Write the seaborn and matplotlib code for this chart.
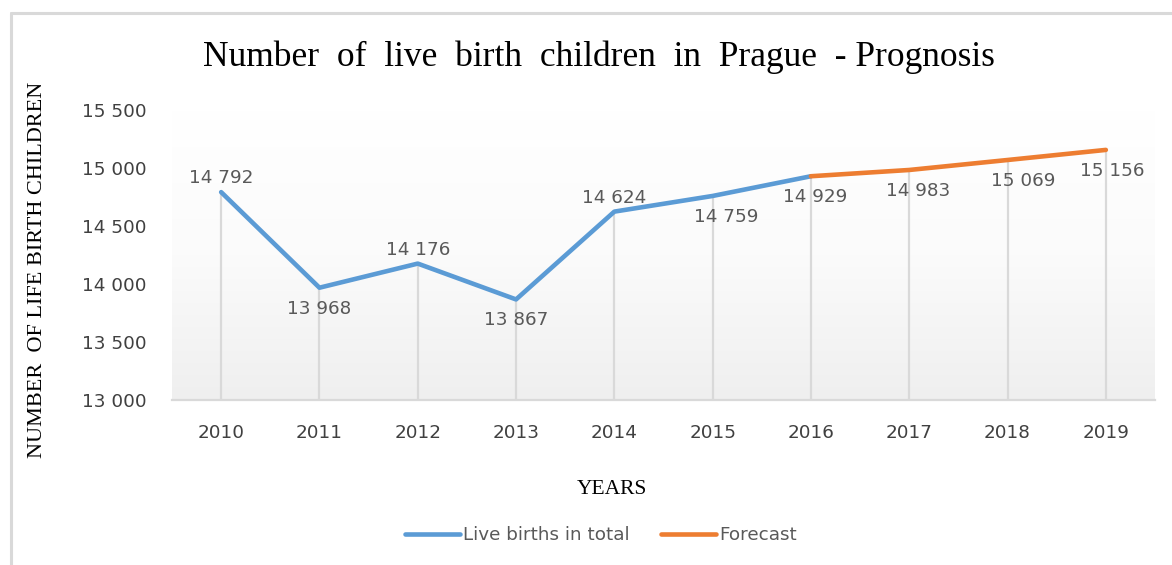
import numpy as np
import pandas as pd
import matplotlib
matplotlib.use("Agg")
import matplotlib.pyplot as plt
import seaborn as sns
from matplotlib.lines import Line2D
from matplotlib.colors import LinearSegmentedColormap

# ---- data ----
years_actual = [2010, 2011, 2012, 2013, 2014, 2015, 2016]
births_actual = [14792, 13968, 14176, 13867, 14624, 14759, 14929]
years_forecast = [2016, 2017, 2018, 2019]
births_forecast = [14929, 14983, 15069, 15156]
label_years = [2010, 2011, 2012, 2013, 2014, 2015, 2016, 2017, 2018, 2019]
label_values = [14792, 13968, 14176, 13867, 14624, 14759, 14929, 14983, 15069, 15156]
y_ticks = [13000, 13500, 14000, 14500, 15000, 15500]

title = "Number  of  live  birth  children  in  Prague  - Prognosis"
y_label = "NUMBER  OF LIFE BIRTH CHILDREN"
x_label = "YEARS"
series_names = ["Live births in total", "Forecast"]

# ---- style ----
sns.set_theme(style="white")
plt.rcParams['font.family'] = ['DejaVu Sans']

BLUE = "#5B9BD5"
ORANGE = "#ED7D31"
TICK = "#404040"
LAB = "#595959"
SERIF = ['Liberation Serif', 'DejaVu Serif']
FS = 13.2

fig = plt.figure(figsize=(11.72, 5.65), dpi=100)
fig.patch.set_facecolor("white")
ax = fig.add_axes([172/1172, 1-400/565, (1155-172)/1172, (400-110)/565])

# gradient background
grad = np.linspace(0, 1, 256).reshape(-1, 1)
cmap = LinearSegmentedColormap.from_list("g", ["#ffffff", "#fbfbfb", "#efefef"])
ax.imshow(grad, extent=[0, 1, 0, 1], transform=ax.transAxes, cmap=cmap,
          aspect="auto", zorder=0, origin="upper")
ax.set_facecolor("white")

df_a = pd.DataFrame({"year": years_actual, "births": births_actual})
df_f = pd.DataFrame({"year": years_forecast, "births": births_forecast})

# drop lines
ax.vlines(label_years, y_ticks[0], label_values, colors="#d9d9d9", linewidth=1.6, zorder=1)

sns.lineplot(data=df_a, x="year", y="births", ax=ax, color=BLUE, linewidth=3.3,
             zorder=3, solid_capstyle="round")
sns.lineplot(data=df_f, x="year", y="births", ax=ax, color=ORANGE, linewidth=3.3,
             zorder=3, solid_capstyle="round")

ax.set_xlim(label_years[0]-0.5, label_years[-1]+0.5)
ax.set_ylim(y_ticks[0], y_ticks[-1])
ax.set_xticks(label_years)
ax.set_xticklabels([str(y) for y in label_years], fontsize=FS, color=TICK)
ax.set_yticks(y_ticks)
ax.set_yticklabels([f"{v:,}".replace(",", " ") for v in y_ticks], fontsize=FS, color=TICK)
ax.tick_params(axis="both", length=0)
ax.tick_params(axis="x", pad=17)
ax.tick_params(axis="y", pad=18)
for s in ["top", "right", "left"]:
    ax.spines[s].set_visible(False)
ax.spines["bottom"].set_color("#d9d9d9")
ax.spines["bottom"].set_linewidth(1.6)
ax.set_xlabel("")
ax.set_ylabel("")

# data labels
place = ["a", "b", "a", "b", "a", "b", "b", "b", "b", "b"]
dx = [0, 0, 0, 0, 0, 14, 4, 9, 16, 6]
for yr, v, p, d in zip(label_years, label_values, place, dx):
    off = 14 if p == "a" else -21
    ax.annotate(f"{v:,}".replace(",", " "), (yr, v), xytext=(d, off),
                textcoords="offset pixels", ha="center", va="center",
                fontsize=FS, color=LAB, zorder=4)

# titles
fig.text(599/1172, 1-57/565, title, ha="center", va="center",
         fontsize=25.5, family=SERIF, color="black")
fig.text(38/1172, 1-270/565, y_label, ha="center", va="center", rotation=90,
         fontsize=16, family=SERIF, color="black")
fig.text(612/1172, 1-490/565, x_label, ha="center", va="center",
         fontsize=15.5, family=SERIF, color="black")

handles = [Line2D([0], [0], color=BLUE, linewidth=3.3, solid_capstyle="round"),
           Line2D([0], [0], color=ORANGE, linewidth=3.3, solid_capstyle="round")]
leg = fig.legend(handles, series_names, loc="center", bbox_to_anchor=(601/1172, 1-535/565),
                 ncol=2, frameon=False, fontsize=FS, handlelength=3.0,
                 handletextpad=0.2, columnspacing=1.7)
for t in leg.get_texts():
    t.set_color(LAB)

# outer chart border
fig.add_artist(Line2D([11/1172, 11/1172], [0, 1-13/565], transform=fig.transFigure,
                      color="#d9d9d9", linewidth=2.2))
fig.add_artist(Line2D([11/1172, 1], [1-13/565, 1-13/565], transform=fig.transFigure,
                      color="#d9d9d9", linewidth=2.2))

fig.savefig("out.png", dpi=100)
